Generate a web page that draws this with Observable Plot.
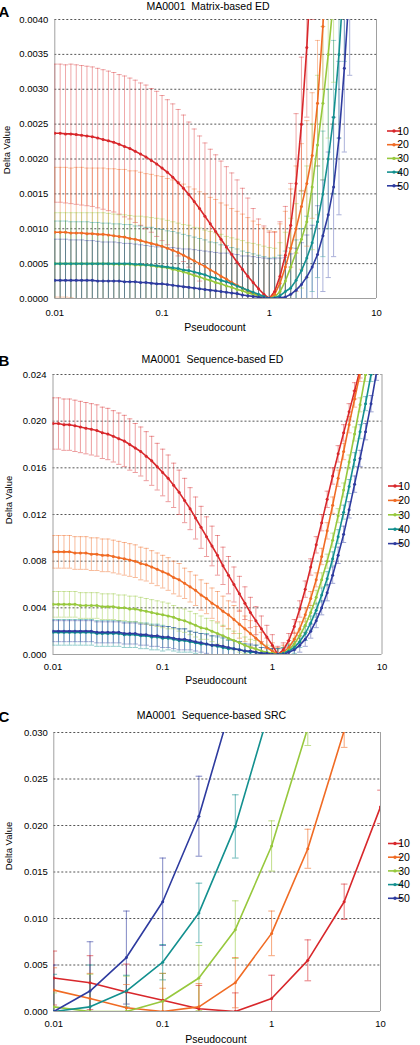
<!DOCTYPE html>
<html><head><meta charset="utf-8">
<script src="https://cdn.jsdelivr.net/npm/d3@7"></script>
<script src="https://cdn.jsdelivr.net/npm/@observablehq/plot@0.6"></script>
<style>
body{margin:0;background:#fff;}
#root{width:420px;}
#root svg{display:block;}
</style></head><body><div id="root"></div>
<script>
const seriesNames = ["10","20","30","40","50"];
const seriesColors = ["#d8272b","#f06b24","#97c83d","#13908f","#2e3b9f"];
const xTicks = [0.01,0.1,1,10];
const xTickLabels = ["0.01","0.1","1","10"];

// pseudocount grid used in panels A and B
const pseudoAB = [0.01,0.01122,0.01259,0.01413,0.01585,0.01778,0.01995,0.02239,0.02512,0.02818,0.03162,0.03548,0.03981,0.04467,0.05012,0.05623,0.0631,0.07079,0.07943,0.08913,0.1,0.1122,0.1259,0.1413,0.1585,0.1778,0.1995,0.2239,0.2512,0.2818,0.3162,0.3548,0.3981,0.4467,0.5012,0.5623,0.631,0.7079,0.7943,0.8913,1,1.122,1.259,1.413,1.585,1.778,1.995,2.239,2.512,2.818,3.162,3.548,3.981,4.467,5.012,5.623,6.31,7.079,7.943,8.913,10];
// pseudocount grid used in panel C
const pseudoC = [0.01,0.0215,0.0464,0.1,0.215,0.464,1,2.15,4.64,10];

// ---- Panel A: Matrix-based ED ----
const yTicksA = [0,0.0005,0.001,0.0015,0.002,0.0025,0.003,0.0035,0.004];
const yLabelsA = ["0.0000","0.0005","0.0010","0.0015","0.0020","0.0025","0.0030","0.0035","0.0040"];
const A_mean_10 = [.00237,.00237,.00236,.00236,.00235,.00234,.00233,.00232,.00230,.00228,.00226,.00224,.00221,.00218,.00215,.00211,.00207,.00203,.00198,.00193,.00187,.00181,.00174,.00166,.00158,.00149,.00139,.00129,.00118,.00107,.00096,.00085,.00074,.00063,.00052,.00042,.00032,.00023,.00014,.00006,0,.0001,.00032,.00062,.00105,.00165,.0025,.0036,.005];
const A_err_10 = [.00099,.00099,.00099,.001,.001,.001,.001,.001,.001,.001,.001,.001,.001,.00101,.00101,.00102,.00102,.00103,.00103,.00104,.00104,.00104,.00105,.00105,.00105,.00104,.00104,.00104,.00105,.00107,.0011,.00112,.00115,.00117,.00118,.00116,.00112,.00106,.001,.00098,.00095,.00085,.00078,.0007,.0006,.001,.00096,.001,.001];
const A_mean_20 = [.00095,.00095,.00095,.00094,.00094,.00094,.00093,.00093,.00092,.00092,.00091,.0009,.00089,.00088,.00086,.00085,.00083,.00081,.00079,.00077,.00075,.00072,.00069,.00066,.00062,.00058,.00054,.0005,.00046,.00041,.00037,.00032,.00028,.00023,.00019,.00015,.00011,.00007,.00004,.00001,0,.00006,.00022,.00045,.00072,.001,.00132,.00165,.00205,.0028,.0039,.0053];
const A_err_20 = [.00093,.00093,.00093,.00093,.00094,.00094,.00094,.00094,.00095,.00095,.00095,.00096,.00096,.00097,.00097,.00098,.00098,.00098,.00099,.00099,.001,.001,.00101,.00101,.00102,.00102,.00103,.00103,.00104,.00104,.00105,.00105,.00106,.00106,.00106,.00106,.00105,.00104,.00102,.001,.00097,.0009,.00085,.0008,.00085,.0009,.0009,.0009,.0009,.0009,.0009,.0009];
const A_mean_30 = [.0005,.0005,.0005,.0005,.0005,.0005,.0005,.0005,.0005,.0005,.0005,.00049,.00049,.00049,.00049,.00048,.00048,.00048,.00047,.00046,.00045,.00044,.00042,.0004,.00038,.00036,.00033,.00031,.00028,.00026,.00023,.00021,.00018,.00016,.00013,.00011,.00008,.00006,.00004,.00002,0,.00002,.0001,.00025,.00045,.00066,.00085,.0011,.0016,.0022,.0028,.0035,.0043];
const A_err_30 = [.00073,.00073,.00073,.00073,.00073,.00073,.00073,.00073,.00073,.00073,.00072,.00072,.00071,.00071,.0007,.0007,.0007,.00069,.00069,.00069,.00069,.00068,.00068,.00068,.00068,.00069,.00069,.0007,.0007,.0007,.00071,.00071,.00071,.00071,.00072,.00072,.00072,.00073,.00073,.00073,.00073,.0007,.0007,.0007,.0007,.0007,.0007,.0008,.0009,.001,.0011,.0012,.0012];
const A_mean_40 = [.0005,.0005,.0005,.0005,.0005,.0005,.0005,.0005,.0005,.0005,.0005,.0005,.0005,.0005,.0005,.00049,.00049,.00048,.00048,.00047,.00046,.00045,.00044,.00043,.00041,.0004,.00038,.00036,.00034,.00031,.00029,.00026,.00024,.00021,.00018,.00015,.00012,.00009,.00006,.00003,0,.00001,.00004,.0001,.00015,.00026,.0004,.00058,.0008,.0011,.0015,.002,.0026,.0035,.0047];
const A_err_40 = [.00061,.00061,.00061,.0006,.0006,.0006,.0006,.00059,.00059,.00058,.00058,.00057,.00057,.00056,.00056,.00055,.00055,.00054,.00054,.00053,.00053,.00052,.00052,.00051,.00051,.0005,.0005,.0005,.0005,.0005,.00051,.00051,.00052,.00052,.00053,.00053,.00054,.00055,.00056,.00057,.00058,.00058,.00058,.00058,.00058,.00058,.0006,.0006,.0007,.0008,.0009,.001,.0011,.0012,.0013];
const A_mean_50 = [.00026,.00026,.00026,.00026,.00026,.00026,.00026,.00026,.00025,.00025,.00025,.00025,.00025,.00024,.00024,.00024,.00023,.00023,.00022,.00021,.00021,.0002,.00019,.00018,.00017,.00016,.00015,.00014,.00013,.00012,.00011,.0001,.00009,.00008,.00007,.00005,.00004,.00003,.00002,.00001,0,0,.00001,.00002,.00006,.00012,.0002,.00031,.00045,.00063,.0009,.0012,.0016,.0023,.0033,.0045];
const A_err_50 = [.00059,.00059,.00059,.00058,.00058,.00058,.00057,.00057,.00057,.00056,.00056,.00056,.00055,.00055,.00055,.00054,.00054,.00053,.00053,.00053,.00053,.00053,.00054,.00054,.00054,.00055,.00055,.00055,.00055,.00055,.00055,.00055,.00056,.00056,.00056,.00056,.00057,.00057,.00057,.00057,.00057,.00057,.00057,.00057,.00058,.0006,.0006,.0006,.0006,.0007,.0008,.0009,.001,.0011,.0012,.0013];

// ---- Panel B: Sequence-based ED ----
const yTicksB = [0,0.004,0.008,0.012,0.016,0.02,0.024];
const yLabelsB = ["0.000","0.004","0.008","0.012","0.016","0.020","0.024"];
const B_mean_10 = [.0198,.0198,.0197,.0197,.0196,.0195,.0194,.0193,.0192,.019,.0189,.0187,.0185,.0183,.018,.0177,.0174,.017,.0166,.0161,.0156,.0151,.0145,.0139,.0132,.0125,.0117,.0109,.0101,.0093,.0085,.0076,.0068,.006,.0052,.0044,.0036,.0029,.0022,.0015,.0008,0,.0004,.0012,.0024,.0039,.0056,.0075,.0094,.0113,.0133,.0153,.0172,.019,.0208,.0226,.0244,.0262];
const B_err_10 = [.0022,.0022,.0022,.0022,.0022,.0022,.0022,.0022,.0022,.0022,.0022,.0022,.0022,.0022,.0022,.0021,.0021,.0021,.0021,.002,.002,.002,.0019,.0019,.0019,.0018,.0018,.0018,.0017,.0017,.0017,.0016,.0016,.0015,.0015,.0014,.0013,.0012,.0011,.001,.0009,.0007,.0006,.0006,.0006,.0007,.0007,.0007,.0007,.0007,.0007,.0007,.0007,.0007,.0007,.0007,.0007,.0007];
const B_mean_20 = [.0088,.0088,.0088,.0088,.0087,.0087,.0087,.0086,.0086,.0085,.0085,.0084,.0083,.0082,.0081,.008,.0078,.0077,.0075,.0073,.0071,.0069,.0066,.0064,.0061,.0058,.0055,.0051,.0048,.0044,.0041,.0037,.0034,.003,.0026,.0022,.0018,.0014,.001,.0006,.0003,0,.0002,.0006,.0013,.0022,.0034,.0048,.0064,.0084,.0106,.0128,.0151,.0174,.0197,.0219,.0241,.0263];
const B_err_20 = [.0014,.0014,.0014,.0014,.0014,.0014,.0014,.0014,.0014,.0014,.0014,.0014,.0014,.0014,.0014,.0014,.0014,.0014,.0014,.0014,.0014,.0014,.0014,.0014,.0013,.0013,.0013,.0013,.0013,.0013,.0013,.0013,.0012,.0012,.0012,.0011,.0011,.001,.0009,.0008,.0007,.0006,.0006,.0006,.0006,.0006,.0006,.0006,.0006,.0007,.0007,.0007,.0007,.0007,.0007,.0007,.0007,.0007];
const B_mean_30 = [.0043,.0043,.0043,.0043,.0043,.0042,.0042,.0042,.0042,.0041,.0041,.0041,.004,.004,.0039,.0039,.0038,.0037,.0036,.0035,.0034,.0033,.0032,.003,.0029,.0027,.0025,.0023,.0022,.002,.0018,.0016,.0014,.0012,.001,.0008,.0006,.0005,.0003,.0002,.0001,0,.0001,.0004,.0009,.0016,.0025,.0036,.0049,.0064,.008,.0098,.0119,.0141,.0165,.0189,.0214,.024,.0266];
const B_err_30 = [.0011,.0011,.0011,.0011,.0011,.0011,.0011,.0011,.0011,.0011,.0011,.0011,.0011,.0011,.0011,.0011,.0011,.0011,.0011,.0011,.0011,.0011,.001,.001,.001,.001,.001,.001,.0009,.0009,.0009,.0009,.0008,.0008,.0008,.0007,.0007,.0007,.0006,.0006,.0006,.0005,.0005,.0005,.0005,.0005,.0006,.0006,.0006,.0006,.0006,.0006,.0006,.0006,.0006,.0006,.0006,.0006,.0006];
const B_mean_40 = [.0019,.0019,.0019,.0019,.0019,.0019,.0019,.0019,.0018,.0018,.0018,.0018,.0018,.0017,.0017,.0017,.0016,.0016,.0015,.0015,.0014,.0014,.0013,.0012,.0012,.0011,.001,.0009,.0009,.0008,.0007,.0006,.0005,.0005,.0004,.0003,.0002,.0002,.0001,.0001,0,0,.0001,.0003,.0006,.0011,.0018,.0027,.0038,.0051,.0065,.0082,.0101,.0122,.0144,.0167,.0191,.0215,.024,.0265];
const B_err_40 = [.0011,.0011,.0011,.0011,.0011,.0011,.0011,.0011,.0011,.0011,.0011,.0011,.0011,.0011,.0011,.0011,.0011,.0011,.0011,.0011,.0011,.001,.001,.001,.001,.0009,.0009,.0009,.0009,.0008,.0008,.0008,.0007,.0007,.0007,.0006,.0006,.0006,.0005,.0005,.0005,.0005,.0005,.0005,.0005,.0005,.0006,.0006,.0006,.0006,.0006,.0006,.0006,.0006,.0006,.0006,.0006,.0006,.0006,.0006];
const B_mean_50 = [.002,.002,.002,.002,.002,.002,.002,.002,.0019,.0019,.0019,.0019,.0019,.0018,.0018,.0018,.0017,.0017,.0016,.0016,.0015,.0015,.0014,.0013,.0013,.0012,.0011,.001,.0009,.0008,.0008,.0007,.0006,.0005,.0004,.0003,.0003,.0002,.0001,.0001,0,0,0,.0002,.0004,.0008,.0013,.002,.0029,.004,.0053,.0068,.0085,.0103,.0124,.0146,.0168,.0191,.0215,.0242,.0268];
const B_err_50 = [.0009,.0009,.0009,.0009,.0009,.0009,.0009,.0009,.0009,.0009,.0009,.0009,.0009,.0009,.0009,.0009,.0009,.0009,.0009,.0009,.0009,.0009,.0009,.0009,.0009,.0008,.0008,.0008,.0008,.0008,.0008,.0008,.0007,.0007,.0007,.0006,.0006,.0006,.0005,.0005,.0005,.0005,.0005,.0005,.0005,.0006,.0006,.0006,.0006,.0006,.0007,.0007,.0007,.0007,.0007,.0007,.0007,.0007,.0007,.0007,.0007];

// ---- Panel C: Sequence-based SRC ----
const yTicksC = [0,0.005,0.01,0.015,0.02,0.025,0.03];
const yLabelsC = ["0.000","0.005","0.010","0.015","0.020","0.025","0.030"];
const C_mean_10 = [.0036,.0031,.0021,.0012,.0003,0,.0014,.0055,.0118,.022];
const C_err_10 = [.0029,.0029,.003,.0029,.0025,.002,.0025,.0022,.0019,.0018];
const C_mean_20 = [.0023,.0014,.0004,0,.0005,.0031,.0084,.0175,.0302];
const C_err_20 = [.0024,.0027,.0025,.0025,.0025,.0027,.0024,.0021,.0018];
const C_mean_30 = [.0005,0,0,.0011,.0036,.0088,.0178,.0305];
const C_err_30 = [.0015,.004,.0038,.003,.0035,.0031,.0027,.0019];
const C_mean_40 = [0,.0005,.0022,.0053,.0106,.0199,.0332];
const C_err_40 = [.004,.0045,.0017,.0019,.0032,.0034,.003];
const C_mean_50 = [0,.0022,.0058,.0118,.021,.0344];
const C_err_50 = [.005,.0053,.005,.0047,.0043,.004];

const FONT = "'Liberation Sans', Arial, Helvetica, sans-serif";
const capSymbol = {draw(ctx, size){ const w = Math.sqrt(size/Math.PI); ctx.moveTo(-w,0); ctx.lineTo(w,0); }};
const xFmt = d => { const k = xTicks.findIndex(t => Math.abs(t - d) < 1e-9 * Math.max(1, t)); return k >= 0 ? xTickLabels[k] : ""; };

function makePanel(cfg){
  const rows = [];
  cfg.means.forEach((arr,k) => arr.forEach((m,i) => {
    const e = cfg.errs[k][i];
    rows.push({x: cfg.xs[i], y: m, lo: m - e, hi: m + e, s: seriesNames[k]});
  }));
  const yFmt = d => { const k = cfg.yTicks.findIndex(t => Math.abs(t - d) < 1e-9); return k >= 0 ? cfg.yLabels[k] : ""; };
  const svg = Plot.plot({
    width: 420, height: cfg.height,
    marginTop: cfg.mt, marginBottom: cfg.mb, marginLeft: cfg.ml, marginRight: cfg.mr,
    style: {fontFamily: FONT, fontSize: "9.5px", color: "#000", background: "#fff"},
    x: {type: "log", domain: [0.01,10], label: null},
    y: {domain: [0, cfg.ymax], label: null},
    color: {domain: seriesNames, range: seriesColors},
    marks: [
      Plot.ruleY(cfg.yTicks.slice(1), {stroke: "#555", strokeDasharray: "2,2"}),
      Plot.ruleX([0.01, 10], {stroke: "#a0a0a0"}),
      Plot.ruleY([0], {stroke: "#a0a0a0"}),
      Plot.ruleX(rows, {x: "x", y1: "lo", y2: "hi", stroke: "s", strokeOpacity: cfg.barOp, strokeWidth: 1, clip: true}),
      Plot.dot(rows, {x: "x", y: "hi", symbol: capSymbol, r: cfg.capR, stroke: "s", fill: "none", strokeOpacity: cfg.barOp, strokeWidth: 1, clip: true}),
      Plot.dot(rows, {x: "x", y: "lo", symbol: capSymbol, r: cfg.capR, stroke: "s", fill: "none", strokeOpacity: cfg.barOp, strokeWidth: 1, clip: true}),
      Plot.line(rows, {x: "x", y: "y", z: "s", stroke: "s", strokeWidth: cfg.lw, clip: true}),
      Plot.dot(rows, {x: "x", y: "y", fill: "s", r: cfg.dotR, clip: true}),
      Plot.axisX(xTicks, {tickFormat: xFmt, tickSize: 0, tickPadding: cfg.xPad, label: null, fontSize: "9.5px"}),
      Plot.axisY(cfg.yTicks, {tickFormat: yFmt, tickSize: 0, tickPadding: cfg.yPad, label: null, fontSize: "9.5px"})
    ]
  });
  const g = d3.select(svg).append("g").attr("font-family", FONT);
  g.append("text").attr("x", cfg.letterX).attr("y", cfg.letterY).attr("font-size", "15px").attr("font-weight", "bold").attr("fill", "#000").text(cfg.letter);
  g.append("text").attr("x", cfg.titleX).attr("y", cfg.titleY).attr("text-anchor", "middle").attr("font-size", "10.5px").attr("fill", "#000").text(cfg.title);
  g.append("text").attr("x", cfg.xLabX).attr("y", cfg.xLabY).attr("text-anchor", "middle").attr("font-size", "10.5px").attr("fill", "#000").text("Pseudocount");
  g.append("text").attr("transform", `translate(${cfg.yLabX},${cfg.yLabY}) rotate(-90)`).attr("text-anchor", "middle").attr("dy", "0.35em").attr("font-size", "9.5px").attr("fill", "#000").text("Delta Value");
  seriesNames.forEach((n,k) => {
    const y = cfg.legY0 + k*cfg.legDy;
    g.append("line").attr("x1", cfg.legX).attr("x2", cfg.legX+14).attr("y1", y).attr("y2", y).attr("stroke", seriesColors[k]).attr("stroke-width", 1.6);
    g.append("circle").attr("cx", cfg.legX+7).attr("cy", y).attr("r", 1.7).attr("fill", seriesColors[k]);
    g.append("text").attr("x", cfg.legX+16).attr("y", y).attr("dy", "0.36em").attr("font-size", "10.5px").attr("fill", "#000").text(n);
  });
  document.getElementById("root").appendChild(svg);
}

makePanel({
  height: 340, mt: 19, mb: 42, ml: 54.3, mr: 44, ymax: 0.004,
  xs: pseudoAB, yTicks: yTicksA, yLabels: yLabelsA,
  means: [A_mean_10, A_mean_20, A_mean_30, A_mean_40, A_mean_50],
  errs: [A_err_10, A_err_20, A_err_30, A_err_40, A_err_50],
  xPad: 11, yPad: 6.5, barOp: 0.4, capR: 2.6, lw: 1.6, dotR: 1.5,
  letter: "A", letterX: 4, letterY: 17, title: "MA0001  Matrix-based ED", titleX: 208, titleY: 10,
  xLabX: 215, xLabY: 330.5, yLabX: 7, yLabY: 150,
  legX: 387, legY0: 131, legDy: 13.7
});
makePanel({
  height: 350, mt: 34, mb: 36, ml: 52.5, mr: 38.5, ymax: 0.024,
  xs: pseudoAB, yTicks: yTicksB, yLabels: yLabelsB,
  means: [B_mean_10, B_mean_20, B_mean_30, B_mean_40, B_mean_50],
  errs: [B_err_10, B_err_20, B_err_30, B_err_40, B_err_50],
  xPad: 9, yPad: 6.5, barOp: 0.45, capR: 2.6, lw: 1.6, dotR: 1.5,
  letter: "B", letterX: 4, letterY: 26, title: "MA0001  Sequence-based ED", titleX: 212.5, titleY: 22.5,
  xLabX: 216, xLabY: 344, yLabX: 9, yLabY: 160,
  legX: 388, legY0: 146, legDy: 14.4
});
makePanel({
  height: 355, mt: 42, mb: 34, ml: 53.3, mr: 40, ymax: 0.03,
  xs: pseudoC, yTicks: yTicksC, yLabels: yLabelsC,
  means: [C_mean_10, C_mean_20, C_mean_30, C_mean_40, C_mean_50],
  errs: [C_err_10, C_err_20, C_err_30, C_err_40, C_err_50],
  xPad: 8.5, yPad: 6, barOp: 0.6, capR: 3.3, lw: 1.6, dotR: 1.5,
  letter: "C", letterX: 4, letterY: 31.5, title: "MA0001  Sequence-based SRC", titleX: 211.5, titleY: 29,
  xLabX: 216, xLabY: 353, yLabX: 9, yLabY: 156,
  legX: 388, legY0: 153.5, legDy: 13.7
});
</script>
</body></html>
